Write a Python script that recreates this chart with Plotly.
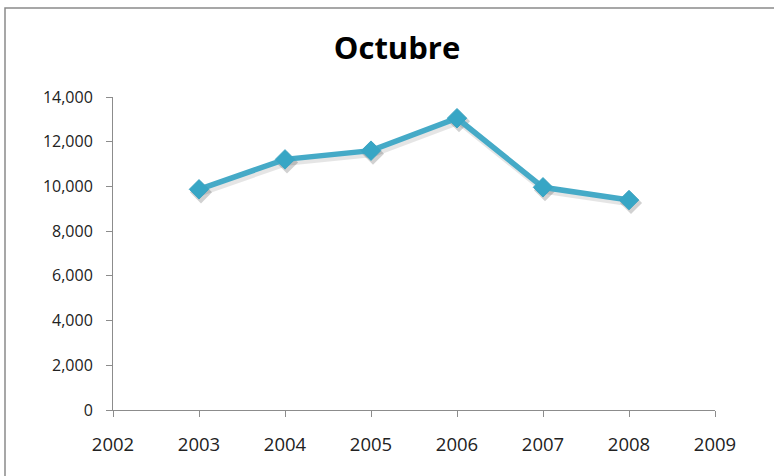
import plotly.graph_objects as go

# Monthly totals for October, by year
years = [2003, 2004, 2005, 2006, 2007, 2008]
values = [9870, 11210, 11600, 13050, 9960, 9390]

x_ticks = [2002, 2003, 2004, 2005, 2006, 2007, 2008, 2009]
y_ticks = [0, 2000, 4000, 6000, 8000, 10000, 12000, 14000]

line_color = "#45AAC7"
marker_color = "#37A6C5"
axis_color = "#8C8C8C"
font_family = "'Open Sans', Lato, sans-serif"

W, H = 774, 476
sx, sy = 2, 3  # shadow offset in pixels
margin = dict(l=113, r=59 - sx, t=97, b=66 - sy)
plot_w = W - margin["l"] - margin["r"]
plot_h = H - margin["t"] - margin["b"]
dx, dy = sx / plot_w, sy / plot_h

fig = go.Figure()

# soft drop shadow on its own subplot, nudged right and down
fig.add_trace(go.Scatter(
    x=years, y=values, mode="lines+markers",
    line=dict(color="rgba(0,0,0,0.10)", width=7),
    marker=dict(symbol="diamond", size=17, color="rgba(0,0,0,0.18)"),
    hoverinfo="skip", showlegend=False,
))

# the series itself, on the visible axes
fig.add_trace(go.Scatter(
    x=years, y=values, mode="lines+markers",
    xaxis="x2", yaxis="y2",
    line=dict(color=line_color, width=5.5),
    marker=dict(symbol="diamond", size=15, color=marker_color,
                line=dict(color="#3CA4C2", width=1)),
    showlegend=False,
))

axis_common = dict(
    showgrid=False, zeroline=False, showline=True,
    linecolor=axis_color, linewidth=1,
    ticks="outside", ticklen=6, tickcolor=axis_color, tickwidth=1,
)

fig.update_layout(
    width=W, height=H, margin=margin,
    paper_bgcolor="white", plot_bgcolor="rgba(0,0,0,0)",
    title=dict(text="<b>Octubre</b>", x=(397 - margin["l"]) / plot_w, xref="paper",
               xanchor="center", y=1 - 48 / H, yref="container", yanchor="middle",
               font=dict(family=font_family, size=31, color="black")),
    xaxis=dict(range=[2002, 2009], domain=[dx, 1], anchor="y", visible=False),
    yaxis=dict(range=[0, 14000], domain=[0, 1 - dy], anchor="x", visible=False),
    xaxis2=dict(range=[2002, 2009], tickvals=x_ticks, ticktext=[str(v) for v in x_ticks],
                domain=[0, 1 - dx], anchor="y2",
                ticklabelstandoff=12,
                tickfont=dict(family=font_family, size=18.5, color="#222222"),
                **axis_common),
    yaxis2=dict(range=[0, 14000], tickvals=y_ticks, tickformat=",",
                domain=[dy, 1], anchor="x2",
                ticklabelstandoff=10,
                tickfont=dict(family=font_family, size=16, color="#222222"),
                **axis_common),
    shapes=[dict(type="rect", xref="paper", yref="paper",
                 x0=(5 - margin["l"]) / plot_w, x1=(W + 20 - margin["l"]) / plot_w,
                 y0=-(margin["b"] + 20) / plot_h,
                 y1=(H - margin["b"] - 8) / plot_h,
                 line=dict(color="#8A8A8A", width=1.5), layer="below")],
)

fig.write_html("out.html")
